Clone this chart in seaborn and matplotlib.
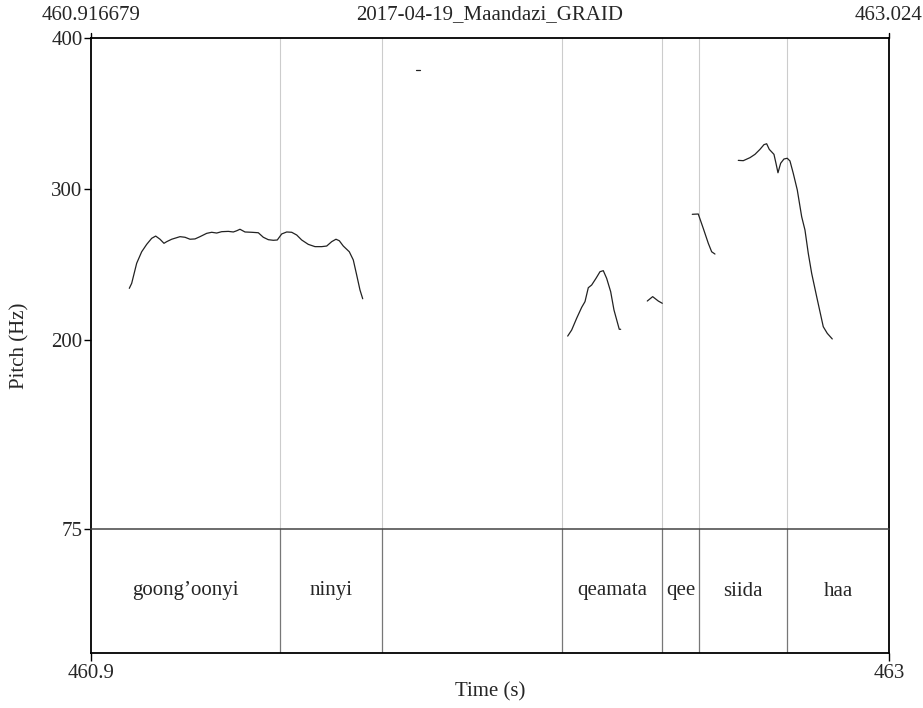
import numpy as np
import pandas as pd
import matplotlib
matplotlib.use("Agg")
import matplotlib.pyplot as plt
import seaborn as sns

# ---------------- data ----------------
t_start = 460.916679
t_end = 463.024
title = "2017-04-19_Maandazi_GRAID"

seg1_t = [461.0178, 461.0241, 461.0373, 461.0505, 461.0637, 461.0769, 461.0875, 461.0989,
          461.1094, 461.1166, 461.1298, 461.1517, 461.1649, 461.1781, 461.1913, 461.2045,
          461.2222, 461.2354, 461.2486, 461.2618, 461.2793, 461.2925, 461.3014, 461.3101,
          461.3234, 461.3410, 461.3585, 461.3717, 461.3849, 461.3981, 461.4086, 461.4203,
          461.4335, 461.4467, 461.4599, 461.4731, 461.4905, 461.5082, 461.5259, 461.5391,
          461.5523, 461.5636, 461.5724, 461.5829, 461.5988, 461.6093, 461.6183, 461.6270,
          461.6342]
seg1_f = [234.3, 237.6, 250.9, 258.5, 263.4, 267.4, 268.9, 266.8,
          264.1, 265.2, 266.8, 268.5, 268.1, 266.8, 267.0, 268.5,
          270.7, 271.4, 270.9, 271.8, 272.0, 271.6, 272.4, 273.4,
          271.6, 271.4, 271.1, 268.1, 266.5, 266.1, 266.3, 270.3,
          271.6, 271.4, 269.6, 266.3, 263.4, 261.9, 261.9, 262.3,
          265.2, 266.8, 265.8, 262.3, 258.5, 253.1, 243.1, 233.2,
          227.4]

seg2_t = [461.7741, 461.7855]
seg2_f = [378.6, 378.6]

seg3_t = [462.1755, 462.1860, 462.1992, 462.2124, 462.2212, 462.2299, 462.2388, 462.2502,
          462.2608, 462.2695, 462.2784, 462.2890, 462.2977, 462.3117, 462.3154]
seg3_f = [202.7, 206.7, 214.5, 221.7, 225.5, 234.7, 236.5, 240.9,
          245.3, 246.0, 240.9, 232.1, 220.0, 207.2, 207.2]

seg4_t = [462.3857, 462.3999, 462.4147, 462.4253]
seg4_f = [225.9, 228.8, 225.9, 224.4]

seg5_t = [462.5045, 462.5203, 462.5335, 462.5468, 462.5557, 462.5644]
seg5_f = [283.3, 283.5, 274.0, 264.1, 258.5, 257.0]

seg6_t = [462.6260, 462.6392, 462.6569, 462.6701, 462.6833, 462.6938, 462.7009, 462.7078,
          462.7202, 462.7255, 462.7308, 462.7379, 462.7466, 462.7553, 462.7625, 462.7712,
          462.7818, 462.7934, 462.8021, 462.8108, 462.8198, 462.8330, 462.8504, 462.8610,
          462.8742]
seg6_f = [319.0, 318.8, 320.8, 323.0, 326.3, 329.4, 330.0, 326.3,
          323.0, 317.1, 310.8, 317.1, 319.9, 320.4, 318.6, 310.4,
          299.4, 281.7, 272.9, 257.5, 244.2, 228.8, 208.9, 204.5,
          200.8]

boundaries = [461.417, 461.685, 462.161, 462.425, 462.523, 462.755]
interval_labels = ["goong\u2019oonyi", "ninyi", "", "qeamata", "qee", "siida", "haa"]

y_ticks = [75, 200, 300, 400]
x_tick_labels = ["460.9", "463"]

# ---------------- build frame ----------------
segs = [(seg1_t, seg1_f), (seg2_t, seg2_f), (seg3_t, seg3_f),
        (seg4_t, seg4_f), (seg5_t, seg5_f), (seg6_t, seg6_f)]
rows = []
for i, (ts, fs) in enumerate(segs):
    for t, f in zip(ts, fs):
        rows.append({"time": t, "pitch": f, "seg": i})
df = pd.DataFrame(rows)

# ---------------- style ----------------
sns.set_theme(style="white")
plt.rcParams["font.family"] = ["Liberation Serif", "DejaVu Serif"]
FS = 15

W, H = 923, 708
fig = plt.figure(figsize=(W / 100, H / 100), dpi=100)

L, R = 91, 889
T, MID, B = 38, 529, 653
ax = fig.add_axes([L / W, 1 - MID / H, (R - L) / W, (MID - T) / H])
axt = fig.add_axes([L / W, 1 - B / H, (R - L) / W, (B - MID) / H])

# pitch
for b in boundaries:
    ax.axvline(b, color="#cccccc", lw=0.8, zorder=0)
sns.lineplot(data=df, x="time", y="pitch", units="seg", estimator=None, sort=False,
             color="#222222", lw=0.9, ax=ax, legend=False)
ax.set_xlim(t_start, t_end)
ax.set_ylim(75, 400)
ax.set_yticks(y_ticks)
ax.set_yticklabels([str(v) for v in y_ticks], fontsize=FS)
ax.set_xticks([])
ax.set_xlabel("")
ax.set_ylabel("")
ax.tick_params(axis="y", direction="out", length=5, width=1, pad=1, left=True, color="black")
for s in ["left", "top", "right"]:
    ax.spines[s].set_color("black")
    ax.spines[s].set_linewidth(1.3)
ax.spines["bottom"].set_visible(False)
ax.tick_params(axis="x", length=0)

# tier
axt.set_xlim(t_start, t_end)
axt.set_ylim(0, 1)
axt.set_yticks([])
for b in boundaries:
    axt.axvline(b, color="#777777", lw=0.9)
edges = [t_start] + boundaries + [t_end]
for i, lab in enumerate(interval_labels):
    if lab:
        axt.text((edges[i] + edges[i + 1]) / 2, 0.5, lab, ha="center", va="center", fontsize=FS)
axt.set_xticks([t_start, t_end])
axt.set_xticklabels(x_tick_labels, fontsize=FS)
axt.tick_params(axis="x", direction="out", length=6, width=1, pad=2, bottom=True, color="black")
for s in ["left", "bottom", "right"]:
    axt.spines[s].set_color("black")
    axt.spines[s].set_linewidth(1.3)
axt.spines["top"].set_color("#444444")
axt.spines["top"].set_linewidth(1.1)

# top labels
fig.text(L / W, 1 - 15 / H, "460.916679", ha="center", va="center", fontsize=FS)
fig.text(R / W, 1 - 15 / H, "463.024", ha="center", va="center", fontsize=FS)
fig.text((L + R) / 2 / W, 1 - 15 / H, title, ha="center", va="center", fontsize=FS)
# small tick marks at top corners
fig.add_artist(plt.Line2D([L / W, L / W], [1 - T / H, 1 - (T - 5) / H], color="black", lw=1))
fig.add_artist(plt.Line2D([R / W, R / W], [1 - T / H, 1 - (T - 5) / H], color="black", lw=1))

fig.text((L + R) / 2 / W, 1 - 692 / H, "Time (s)", ha="center", va="center", fontsize=FS)
fig.text(20 / W, 1 - ((T + B) / 2) / H, "Pitch (Hz)", ha="center", va="center",
         rotation=90, fontsize=FS)

fig.savefig("out.png", dpi=100)
